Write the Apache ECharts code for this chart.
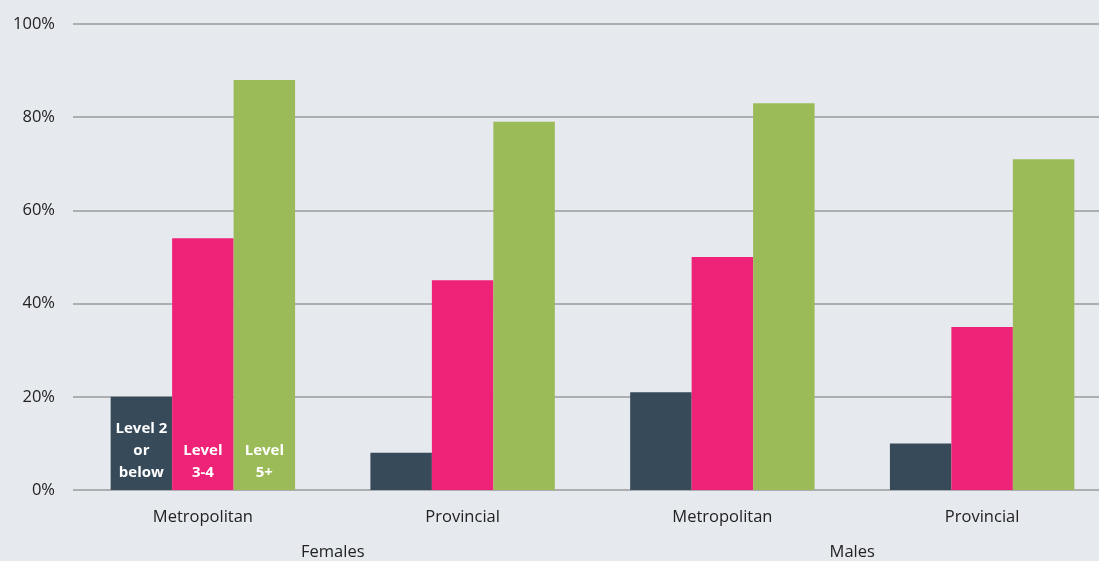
<!DOCTYPE html>
<html><head><meta charset="utf-8">
<script src="https://cdn.jsdelivr.net/npm/echarts@6/dist/echarts.min.js"></script>
<style>html,body{margin:0;padding:0;background:#e6e9ee;overflow:hidden;width:1099px;height:561px;}#c{width:1112px;height:561px;}</style>
</head><body><div id="c"></div>
<script>
const categories = ['Metropolitan','Provincial','Metropolitan','Provincial'];
const groups = ['Females','Males'];
const seriesNames = ['Level 2 or below','Level 3-4','Level 5+'];
const seriesLabels = ['Level 2\nor\nbelow','Level\n3-4','Level\n5+'];
const level2 = [20, 8, 21, 10];
const level34 = [54, 45, 50, 35];
const level5 = [88, 79, 83, 71];
const yTicks = [0, 20, 40, 60, 80, 100];
const colors = ['#364a5a','#ee2277','#9bbb59'];
const font = '"Open Sans", "Noto Sans", sans-serif';

function mk(vals, i){
  return {
    name: seriesNames[i], type:'bar', xAxisIndex:0, yAxisIndex:0,
    barGap:'0%', barCategoryGap:'29%',
    itemStyle:{color:colors[i]},
    data: vals.map((v,k)=> k===0 ? {value:v, label:{show:true, position:'insideBottom', distance:6, formatter:seriesLabels[i], color:'#fff', fontWeight:'bold', fontSize:15, lineHeight:22, fontFamily:font}} : v)
  };
}
const chart = echarts.init(document.getElementById('c'));
chart.setOption({
  backgroundColor:'#e6e9ee',
  animation:false,
  grid:{left:73, right:0, top:24, bottom:70, containLabel:false},
  xAxis:[
    {type:'category', data:categories, position:'bottom',
     axisLine:{show:false}, axisTick:{show:false},
     axisLabel:{color:'#222', fontSize:16.5, fontFamily:font, margin:19}},
    {type:'category', data:groups, position:'bottom', gridIndex:0,
     axisLine:{show:false}, axisTick:{show:false},
     axisLabel:{color:'#222', fontSize:16.5, fontFamily:font, margin:54}}
  ],
  yAxis:{type:'value', min:yTicks[0], max:yTicks[yTicks.length-1], interval:20,
    axisLine:{show:false}, axisTick:{show:false},
    axisLabel:{formatter:'{value}%', color:'#222', fontSize:16.5, fontFamily:font, margin:18},
    splitLine:{lineStyle:{color:'#9a9a9a', width:1.5}}},
  series:[mk(level2,0), mk(level34,1), mk(level5,2)]
});
</script></body></html>
